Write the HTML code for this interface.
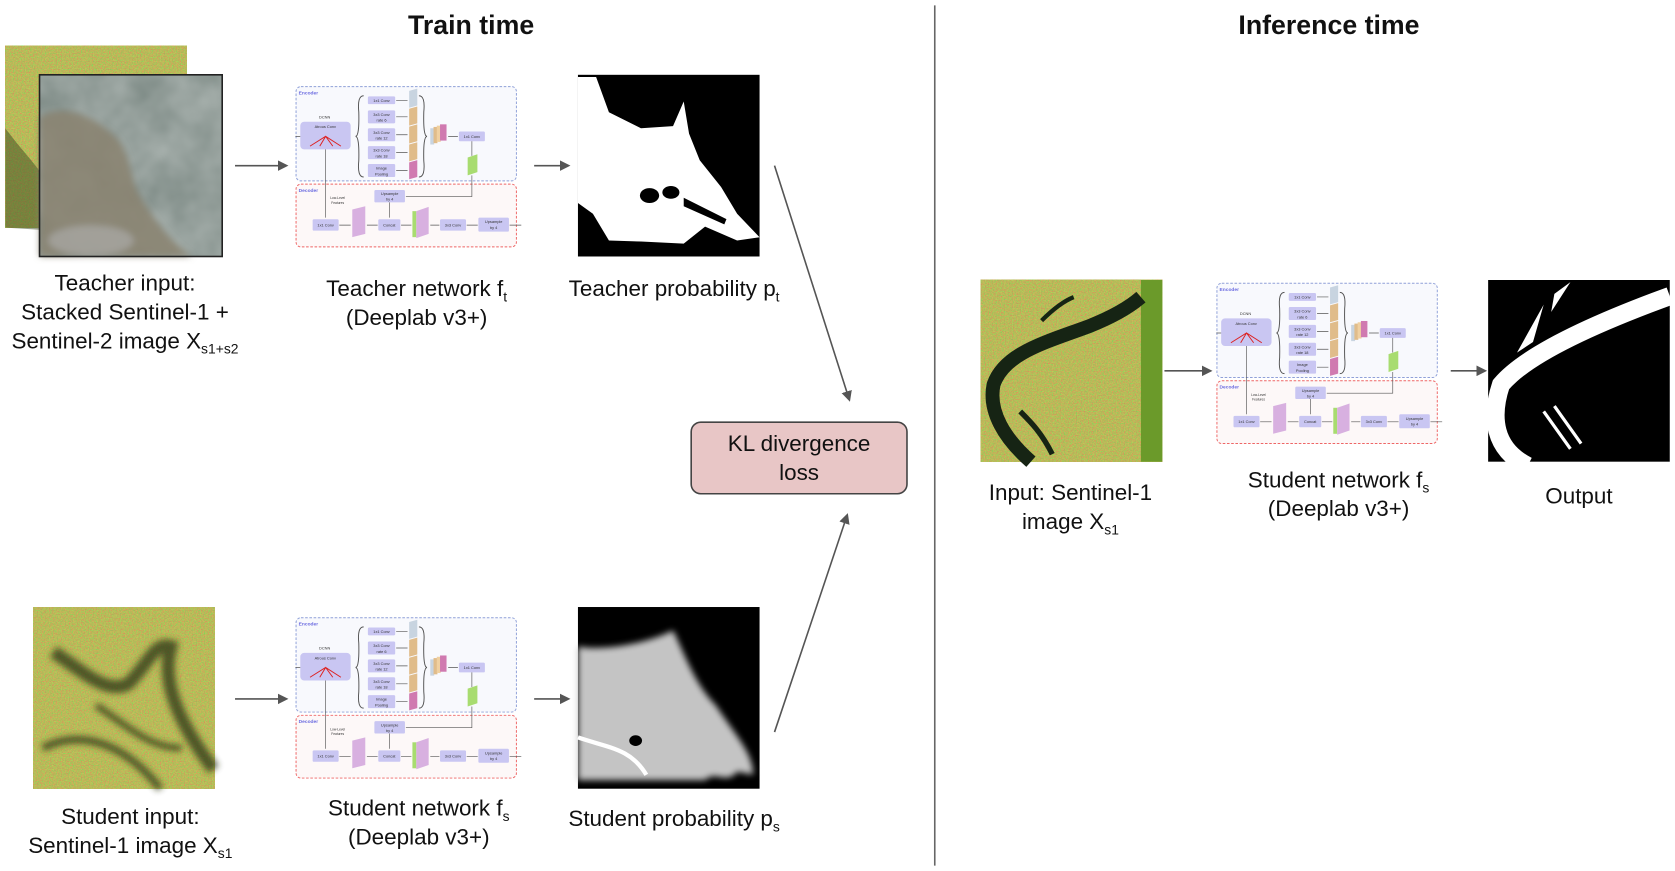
<!DOCTYPE html>
<html><head><meta charset="utf-8"><style>
html,body{margin:0;padding:0;background:#fff;}
body{width:1675px;height:871px;overflow:hidden;position:relative;}
#c{position:absolute;left:0;top:0;width:1568px;height:815px;transform:scale(1.0683,1.0687);transform-origin:0 0;font-family:"Liberation Sans",sans-serif;color:#111;}
.a{position:absolute;}
.lbl{position:absolute;font-size:21px;text-align:center;line-height:27px;white-space:nowrap;transform:translateX(-50%);}
.ttl{position:absolute;font-size:25px;font-weight:bold;transform:translateX(-50%);}
sub{font-size:13px;vertical-align:-5px;line-height:0;}
.net text{font-family:"Liberation Sans",sans-serif;font-size:12px;fill:#333;text-anchor:middle;}
</style></head><body><div id="c">

<svg class="a" style="left:0;top:0" width="1568" height="815">
<defs>
<filter id="n1" x="0" y="0" width="100%" height="100%"><feTurbulence type="fractalNoise" baseFrequency="0.8" numOctaves="2" seed="3"/><feColorMatrix values="0.7 -0.4 0 0 0.34  -0.3 0.6 0 0 0.34  0 0 0 0 0.1  0 0 0 0 1"/></filter>
<filter id="n2" x="0" y="0" width="100%" height="100%"><feTurbulence type="fractalNoise" baseFrequency="0.025" numOctaves="3" seed="7"/><feColorMatrix values="0.25 0 0 0 0.17  0.25 0 0 0 0.22  0.25 0 0 0 0.2  0 0 0 0 1"/></filter>
<filter id="bl"><feGaussianBlur stdDeviation="3"/></filter>
<marker id="ar" markerWidth="10" markerHeight="10" refX="8" refY="5" orient="auto" markerUnits="userSpaceOnUse"><path d="M0,0 L10,5 L0,10 z" fill="#555"/></marker>
</defs>
<line x1="875" y1="5" x2="875" y2="810" stroke="#666" stroke-width="1.5"/>
<!-- teacher input -->
<rect x="5" y="43" width="170" height="170" filter="url(#n1)"/>
<path d="M5,120 C20,140 30,150 37,160 L37,215 L5,213Z" fill="#3a4a22" opacity="0.5"/>
<rect x="37" y="70" width="171" height="170" filter="url(#n2)"/>
<g filter="url(#bl)">
<path d="M37,110 C60,95 90,110 110,130 C125,150 120,170 135,190 C150,215 170,235 180,240 L37,240Z" fill="#8a8270" opacity="0.85"/>
<ellipse cx="85" cy="225" rx="40" ry="14" fill="#b0b0b0" opacity="0.6"/>
</g>
<rect x="37" y="70" width="171" height="170" fill="none" stroke="#222" stroke-width="1.5"/>
<!-- student input -->
<rect x="31" y="568" width="170" height="170" filter="url(#n1)"/>
<g filter="url(#bl)" opacity="0.75">
<path d="M50,610 C80,630 100,650 120,640 C140,620 145,600 160,605 C150,640 170,680 200,720" stroke="#2a3418" stroke-width="12" fill="none"/>
<path d="M40,700 C80,680 120,700 150,738" stroke="#2a3418" stroke-width="7" fill="none"/>
<path d="M90,660 C120,680 140,700 170,700" stroke="#2a3418" stroke-width="6" fill="none"/>
</g>
<!-- arrows -->
<line x1="220" y1="155" x2="268" y2="155" stroke="#555" stroke-width="1.5" marker-end="url(#ar)"/>
<line x1="500" y1="155" x2="532" y2="155" stroke="#555" stroke-width="1.5" marker-end="url(#ar)"/>
<line x1="220" y1="654" x2="268" y2="654" stroke="#555" stroke-width="1.5" marker-end="url(#ar)"/>
<line x1="500" y1="654" x2="532" y2="654" stroke="#555" stroke-width="1.5" marker-end="url(#ar)"/>
<line x1="725" y1="155" x2="795" y2="374" stroke="#555" stroke-width="1.5" marker-end="url(#ar)"/>
<line x1="725" y1="685" x2="793" y2="482" stroke="#555" stroke-width="1.5" marker-end="url(#ar)"/>
<line x1="1090" y1="347" x2="1133" y2="347" stroke="#555" stroke-width="1.5" marker-end="url(#ar)"/>
<line x1="1358" y1="347" x2="1390" y2="347" stroke="#555" stroke-width="1.5" marker-end="url(#ar)"/>
<!-- teacher prob -->
<rect x="541" y="70" width="170" height="170" fill="#000"/>
<path d="M541,72 L558,72 L570,105 L600,120 L630,118 L640,95 L645,125 L655,150 L675,175 L690,200 L711,222 L690,225 L660,212 L640,228 L600,226 L570,225 L555,200 L541,190 Z" fill="#fff"/>
<ellipse cx="608" cy="183" rx="9" ry="7" fill="#000"/><ellipse cx="628" cy="180" rx="8" ry="6" fill="#000"/>
<path d="M640,185 L680,205 L678,210 L640,193Z" fill="#000"/>
<!-- student prob -->
<rect x="541" y="568" width="170" height="170" fill="#000"/>
<path d="M541,605 C570,610 610,600 630,590 C640,610 650,640 670,660 C690,690 705,705 705,725 L690,722 C680,735 670,720 660,730 L600,730 L541,730 Z" fill="#c4c4c4" filter="url(#bl)"/>
<path d="M541,690 C570,700 590,700 605,725" stroke="#fff" stroke-width="4" fill="none"/>
<ellipse cx="595" cy="693" rx="6" ry="5" fill="#000"/>
<!-- KL -->
<rect x="647" y="395" width="202" height="67" rx="9" fill="#e8c6c6" stroke="#444" stroke-width="1.5"/>
<!-- inference input -->
<rect x="918" y="262" width="170" height="170" filter="url(#n1)"/>
<rect x="1068" y="262" width="20" height="170" fill="#6b9a2a"/>
<path d="M965,432 C940,410 925,385 930,360 C940,330 980,320 1020,305 C1045,295 1060,285 1068,278" stroke="#162414" stroke-width="13" fill="none"/>
<path d="M955,385 C965,395 975,405 985,425" stroke="#162414" stroke-width="5" fill="none"/>
<path d="M975,300 C985,290 995,282 1005,278" stroke="#162414" stroke-width="4" fill="none"/>
<!-- output -->
<rect x="1393" y="262" width="170" height="170" fill="#000"/>
<path d="M1563,277 C1500,300 1430,330 1405,360 C1395,390 1398,420 1430,436" stroke="#fff" stroke-width="17" fill="none"/>
<path d="M1420,330 L1445,285 L1435,320Z M1455,275 L1470,264 L1452,292Z" fill="#fff"/>
<path d="M1445,385 L1470,420 M1455,380 L1480,415" stroke="#fff" stroke-width="3"/>
</svg>

<div class="ttl" style="left:441px;top:10px">Train time</div>
<div class="ttl" style="left:1244px;top:10px">Inference time</div>

<div class="lbl" style="left:117px;top:252px">Teacher input:<br>Stacked Sentinel-1 +<br>Sentinel-2 image X<sub>s1+s2</sub></div>
<div class="lbl" style="left:390px;top:257px">Teacher network f<sub>t</sub><br>(Deeplab v3+)</div>
<div class="lbl" style="left:631px;top:257px">Teacher probability p<sub>t</sub></div>
<div class="lbl" style="left:748px;top:402px">KL divergence<br>loss</div>
<div class="lbl" style="left:122px;top:751px">Student input:<br>Sentinel-1 image X<sub>s1</sub></div>
<div class="lbl" style="left:392px;top:743px">Student network f<sub>s</sub><br>(Deeplab v3+)</div>
<div class="lbl" style="left:631px;top:753px">Student probability p<sub>s</sub></div>
<div class="lbl" style="left:1002px;top:448px">Input: Sentinel-1<br>image X<sub>s1</sub></div>
<div class="lbl" style="left:1253px;top:436px">Student network f<sub>s</sub><br>(Deeplab v3+)</div>
<div class="lbl" style="left:1478px;top:451px">Output</div>

<!-- network diagrams -->
<svg class="a net" style="left:275px;top:77px" width="216" height="159" viewBox="70 35 710 510">
<rect x="77" y="42" width="678" height="290" rx="15" fill="#f8f9fd" stroke="#8fa0d8" stroke-width="3" stroke-dasharray="8 5"/>
<rect x="77" y="342" width="678" height="193" rx="15" fill="#fdf8f8" stroke="#e66" stroke-width="3" stroke-dasharray="8 5"/>
<text x="115" y="66" style="fill:#6a6ae0;font-weight:bold;font-size:15px">Encoder</text>
<text x="115" y="366" style="fill:#6a6ae0;font-weight:bold;font-size:15px">Decoder</text>
<text x="165" y="140">DCNN</text>
<rect x="90" y="150" width="155" height="85" rx="12" fill="#c9c6f2"/><text x="167" y="170">Atrous Conv</text>
<path d="M120,225 L168,195 L215,225 M150,225 L168,195 L190,225" stroke="#d22" stroke-width="3" fill="none"/>
<path d="M285,70 Q265,70 270,120 Q272,195 260,195 Q272,195 270,270 Q265,320 285,320" stroke="#555" stroke-width="3" fill="none"/>
<path d="M455,70 Q475,70 470,120 Q468,195 480,195 Q468,195 470,270 Q475,320 455,320" stroke="#555" stroke-width="3" fill="none"/>
<g fill="#c9c6f2"><rect x="298" y="72" width="84" height="24" rx="4"/><rect x="298" y="115" width="84" height="40" rx="4"/><rect x="298" y="170" width="84" height="40" rx="4"/><rect x="298" y="225" width="84" height="40" rx="4"/><rect x="298" y="280" width="84" height="40" rx="4"/>
<rect x="578" y="180" width="80" height="30" rx="4"/><rect x="318" y="360" width="94" height="38" rx="4"/><rect x="128" y="450" width="80" height="35" rx="4"/><rect x="330" y="450" width="68" height="35" rx="4"/><rect x="520" y="450" width="80" height="35" rx="4"/><rect x="638" y="445" width="94" height="43" rx="4"/></g>
<text x="340" y="89">1x1 Conv</text><text x="340" y="132">3x3 Conv</text><text x="340" y="150">rate 6</text><text x="340" y="187">3x3 Conv</text><text x="340" y="205">rate 12</text><text x="340" y="242">3x3 Conv</text><text x="340" y="260">rate 18</text><text x="340" y="297">Image</text><text x="340" y="315">Pooling</text>
<text x="618" y="200">1x1 Conv</text><text x="365" y="376">Upsample</text><text x="365" y="393">by 4</text><text x="168" y="472">1x1 Conv</text><text x="364" y="472">Concat</text><text x="560" y="472">3x3 Conv</text><text x="685" y="462">Upsample</text><text x="685" y="480">by 4</text>
<text x="205" y="388" style="font-size:10px">Low-Level</text><text x="205" y="403" style="font-size:10px">Features</text>
<g stroke="#555" stroke-width="2" fill="none"><path d="M385,84H420 M385,135H420 M385,190H420 M385,245H420 M385,300H420 M545,195H575 M618,210V255 M618,315V380H415 M365,398V445 M168,235V445 M210,468H245 M295,468H328 M400,468H432 M490,468H518 M602,468H636 M734,468H770 M75,195H90"/></g>
<path d="M425,55 L450,48 L450,100 L425,107Z" fill="#c8d4e0"/><path d="M425,110 L450,103 L450,155 L425,162Z" fill="#e0bc8a"/><path d="M425,165 L450,158 L450,210 L425,217Z" fill="#e0bc8a"/><path d="M425,220 L450,213 L450,265 L425,272Z" fill="#e0bc8a"/><path d="M425,275 L450,268 L450,320 L425,327Z" fill="#d07ab0"/>
<rect x="490" y="170" width="12" height="50" fill="#c8d4e0"/><rect x="500" y="166" width="12" height="50" fill="#e0bc8a"/><rect x="510" y="162" width="12" height="50" fill="#f0d0a0"/><rect x="520" y="158" width="20" height="50" fill="#d07ab0"/>
<path d="M605,260 L635,250 L635,305 L605,315Z" fill="#a8dc70"/>
<path d="M250,420 L290,410 L290,495 L250,505Z" fill="#d8b0e0"/>
<rect x="435" y="425" width="12" height="80" fill="#a8dc70"/><path d="M447,425 L485,412 L485,495 L447,508Z" fill="#d8b0e0"/>
</svg>

<svg class="a net" style="left:275px;top:574px" width="216" height="159" viewBox="70 35 710 510">
<rect x="77" y="42" width="678" height="290" rx="15" fill="#f8f9fd" stroke="#8fa0d8" stroke-width="3" stroke-dasharray="8 5"/>
<rect x="77" y="342" width="678" height="193" rx="15" fill="#fdf8f8" stroke="#e66" stroke-width="3" stroke-dasharray="8 5"/>
<text x="115" y="66" style="fill:#6a6ae0;font-weight:bold;font-size:15px">Encoder</text>
<text x="115" y="366" style="fill:#6a6ae0;font-weight:bold;font-size:15px">Decoder</text>
<text x="165" y="140">DCNN</text>
<rect x="90" y="150" width="155" height="85" rx="12" fill="#c9c6f2"/><text x="167" y="170">Atrous Conv</text>
<path d="M120,225 L168,195 L215,225 M150,225 L168,195 L190,225" stroke="#d22" stroke-width="3" fill="none"/>
<path d="M285,70 Q265,70 270,120 Q272,195 260,195 Q272,195 270,270 Q265,320 285,320" stroke="#555" stroke-width="3" fill="none"/>
<path d="M455,70 Q475,70 470,120 Q468,195 480,195 Q468,195 470,270 Q475,320 455,320" stroke="#555" stroke-width="3" fill="none"/>
<g fill="#c9c6f2"><rect x="298" y="72" width="84" height="24" rx="4"/><rect x="298" y="115" width="84" height="40" rx="4"/><rect x="298" y="170" width="84" height="40" rx="4"/><rect x="298" y="225" width="84" height="40" rx="4"/><rect x="298" y="280" width="84" height="40" rx="4"/>
<rect x="578" y="180" width="80" height="30" rx="4"/><rect x="318" y="360" width="94" height="38" rx="4"/><rect x="128" y="450" width="80" height="35" rx="4"/><rect x="330" y="450" width="68" height="35" rx="4"/><rect x="520" y="450" width="80" height="35" rx="4"/><rect x="638" y="445" width="94" height="43" rx="4"/></g>
<text x="340" y="89">1x1 Conv</text><text x="340" y="132">3x3 Conv</text><text x="340" y="150">rate 6</text><text x="340" y="187">3x3 Conv</text><text x="340" y="205">rate 12</text><text x="340" y="242">3x3 Conv</text><text x="340" y="260">rate 18</text><text x="340" y="297">Image</text><text x="340" y="315">Pooling</text>
<text x="618" y="200">1x1 Conv</text><text x="365" y="376">Upsample</text><text x="365" y="393">by 4</text><text x="168" y="472">1x1 Conv</text><text x="364" y="472">Concat</text><text x="560" y="472">3x3 Conv</text><text x="685" y="462">Upsample</text><text x="685" y="480">by 4</text>
<text x="205" y="388" style="font-size:10px">Low-Level</text><text x="205" y="403" style="font-size:10px">Features</text>
<g stroke="#555" stroke-width="2" fill="none"><path d="M385,84H420 M385,135H420 M385,190H420 M385,245H420 M385,300H420 M545,195H575 M618,210V255 M618,315V380H415 M365,398V445 M168,235V445 M210,468H245 M295,468H328 M400,468H432 M490,468H518 M602,468H636 M734,468H770 M75,195H90"/></g>
<path d="M425,55 L450,48 L450,100 L425,107Z" fill="#c8d4e0"/><path d="M425,110 L450,103 L450,155 L425,162Z" fill="#e0bc8a"/><path d="M425,165 L450,158 L450,210 L425,217Z" fill="#e0bc8a"/><path d="M425,220 L450,213 L450,265 L425,272Z" fill="#e0bc8a"/><path d="M425,275 L450,268 L450,320 L425,327Z" fill="#d07ab0"/>
<rect x="490" y="170" width="12" height="50" fill="#c8d4e0"/><rect x="500" y="166" width="12" height="50" fill="#e0bc8a"/><rect x="510" y="162" width="12" height="50" fill="#f0d0a0"/><rect x="520" y="158" width="20" height="50" fill="#d07ab0"/>
<path d="M605,260 L635,250 L635,305 L605,315Z" fill="#a8dc70"/>
<path d="M250,420 L290,410 L290,495 L250,505Z" fill="#d8b0e0"/>
<rect x="435" y="425" width="12" height="80" fill="#a8dc70"/><path d="M447,425 L485,412 L485,495 L447,508Z" fill="#d8b0e0"/>
</svg>

<svg class="a net" style="left:1137px;top:261px" width="216" height="159" viewBox="70 35 710 510">
<rect x="77" y="42" width="678" height="290" rx="15" fill="#f8f9fd" stroke="#8fa0d8" stroke-width="3" stroke-dasharray="8 5"/>
<rect x="77" y="342" width="678" height="193" rx="15" fill="#fdf8f8" stroke="#e66" stroke-width="3" stroke-dasharray="8 5"/>
<text x="115" y="66" style="fill:#6a6ae0;font-weight:bold;font-size:15px">Encoder</text>
<text x="115" y="366" style="fill:#6a6ae0;font-weight:bold;font-size:15px">Decoder</text>
<text x="165" y="140">DCNN</text>
<rect x="90" y="150" width="155" height="85" rx="12" fill="#c9c6f2"/><text x="167" y="170">Atrous Conv</text>
<path d="M120,225 L168,195 L215,225 M150,225 L168,195 L190,225" stroke="#d22" stroke-width="3" fill="none"/>
<path d="M285,70 Q265,70 270,120 Q272,195 260,195 Q272,195 270,270 Q265,320 285,320" stroke="#555" stroke-width="3" fill="none"/>
<path d="M455,70 Q475,70 470,120 Q468,195 480,195 Q468,195 470,270 Q475,320 455,320" stroke="#555" stroke-width="3" fill="none"/>
<g fill="#c9c6f2"><rect x="298" y="72" width="84" height="24" rx="4"/><rect x="298" y="115" width="84" height="40" rx="4"/><rect x="298" y="170" width="84" height="40" rx="4"/><rect x="298" y="225" width="84" height="40" rx="4"/><rect x="298" y="280" width="84" height="40" rx="4"/>
<rect x="578" y="180" width="80" height="30" rx="4"/><rect x="318" y="360" width="94" height="38" rx="4"/><rect x="128" y="450" width="80" height="35" rx="4"/><rect x="330" y="450" width="68" height="35" rx="4"/><rect x="520" y="450" width="80" height="35" rx="4"/><rect x="638" y="445" width="94" height="43" rx="4"/></g>
<text x="340" y="89">1x1 Conv</text><text x="340" y="132">3x3 Conv</text><text x="340" y="150">rate 6</text><text x="340" y="187">3x3 Conv</text><text x="340" y="205">rate 12</text><text x="340" y="242">3x3 Conv</text><text x="340" y="260">rate 18</text><text x="340" y="297">Image</text><text x="340" y="315">Pooling</text>
<text x="618" y="200">1x1 Conv</text><text x="365" y="376">Upsample</text><text x="365" y="393">by 4</text><text x="168" y="472">1x1 Conv</text><text x="364" y="472">Concat</text><text x="560" y="472">3x3 Conv</text><text x="685" y="462">Upsample</text><text x="685" y="480">by 4</text>
<text x="205" y="388" style="font-size:10px">Low-Level</text><text x="205" y="403" style="font-size:10px">Features</text>
<g stroke="#555" stroke-width="2" fill="none"><path d="M385,84H420 M385,135H420 M385,190H420 M385,245H420 M385,300H420 M545,195H575 M618,210V255 M618,315V380H415 M365,398V445 M168,235V445 M210,468H245 M295,468H328 M400,468H432 M490,468H518 M602,468H636 M734,468H770 M75,195H90"/></g>
<path d="M425,55 L450,48 L450,100 L425,107Z" fill="#c8d4e0"/><path d="M425,110 L450,103 L450,155 L425,162Z" fill="#e0bc8a"/><path d="M425,165 L450,158 L450,210 L425,217Z" fill="#e0bc8a"/><path d="M425,220 L450,213 L450,265 L425,272Z" fill="#e0bc8a"/><path d="M425,275 L450,268 L450,320 L425,327Z" fill="#d07ab0"/>
<rect x="490" y="170" width="12" height="50" fill="#c8d4e0"/><rect x="500" y="166" width="12" height="50" fill="#e0bc8a"/><rect x="510" y="162" width="12" height="50" fill="#f0d0a0"/><rect x="520" y="158" width="20" height="50" fill="#d07ab0"/>
<path d="M605,260 L635,250 L635,305 L605,315Z" fill="#a8dc70"/>
<path d="M250,420 L290,410 L290,495 L250,505Z" fill="#d8b0e0"/>
<rect x="435" y="425" width="12" height="80" fill="#a8dc70"/><path d="M447,425 L485,412 L485,495 L447,508Z" fill="#d8b0e0"/>
</svg>

</div></body></html>
